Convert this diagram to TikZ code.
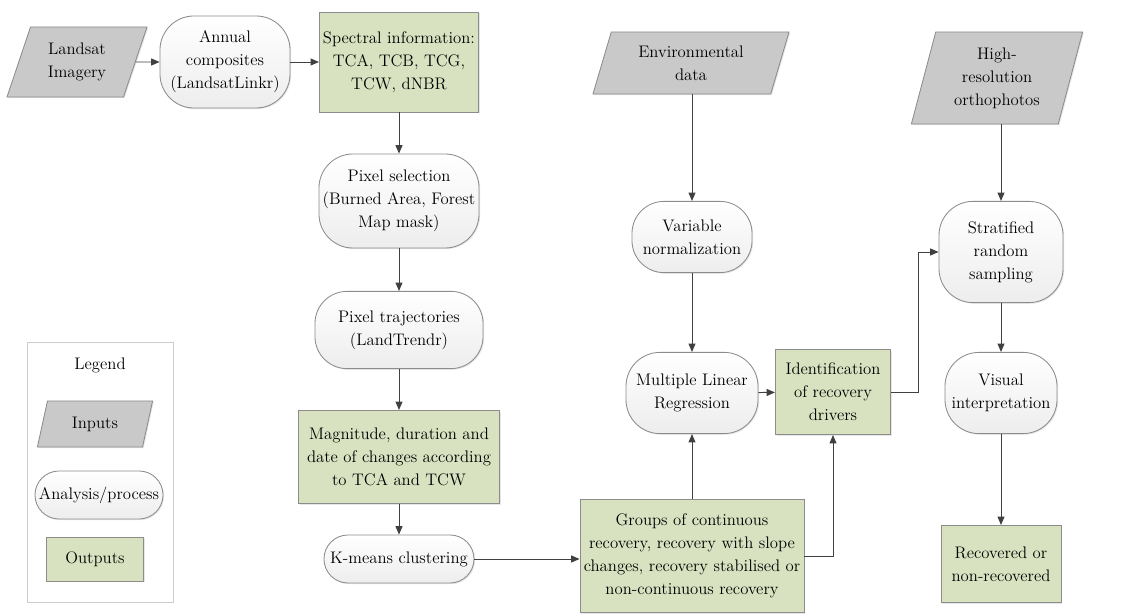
\documentclass[tikz,border=0pt]{standalone}
\usepackage{xcolor}
\usepackage{tikz}
\usetikzlibrary{shapes,arrows,positioning,calc,shadows,arrows.meta}

\definecolor{inputgray}{HTML}{C9C9C9}
\definecolor{outgreen}{HTML}{D8E2C0}
\definecolor{edgegray}{HTML}{8C8C8C}
\definecolor{linegray}{HTML}{404040}

\tikzset{
    base/.style={draw=edgegray, line width=0.6pt, align=center, inner sep=1pt,
        font=\fontsize{11.9}{16.3}\selectfont,
        drop shadow={opacity=0.2, shadow xshift=0.8pt, shadow yshift=-0.8pt}},
    inputbox/.style={base, fill=inputgray, trapezium, trapezium left angle=#1,
        trapezium right angle=180-#1, trapezium stretches body},
    procbox/.style={base, top color=white, bottom color=gray!14, rounded corners=#1},
    procbox/.default=0.6cm,
    outbox/.style={base, fill=outgreen},
    conn/.style={draw=linegray, line width=0.7pt, -{Triangle[length=6pt,width=5pt]}}
}

\begin{document}
\begin{tikzpicture}[x=0.025cm, y=-0.025cm]
    \useasboundingbox (0,0) rectangle (1134,615);

    % First column
    \node [inputbox=60, minimum width=3.5cm, minimum height=1.75cm] (landsat) at (77,62) {Landsat\\Imagery};
    \node [procbox=0.85cm, minimum width=3.25cm, minimum height=2.3cm] (annual) at (225,62) {Annual\\composites\\(LandsatLinkr)};
    \node [outbox, minimum width=3.98cm, minimum height=2.5cm] (spectral) at (399,62) {Spectral information:\\TCA, TCB, TCG,\\TCW, dNBR};
    \node [procbox=0.85cm, minimum width=4cm, minimum height=2.35cm] (pixsel) at (399,201) {Pixel selection\\(Burned Area, Forest\\Map mask)};
    \node [procbox=0.8cm, minimum width=4.2cm, minimum height=1.93cm] (pixtraj) at (399,330) {Pixel trajectories\\(LandTrendr)};
    \node [outbox, minimum width=5.03cm, minimum height=2.33cm] (magn) at (399,457) {Magnitude, duration and\\date of changes according\\to TCA and TCW};
    \node [procbox, minimum width=3.75cm, minimum height=1.2cm] (kmeans) at (399,559) {K-means clustering};

    % Environmental branch
    \node [inputbox=64, minimum width=4.9cm, minimum height=1.55cm] (envdata) at (691,63) {Environmental\\data};
    \node [procbox=0.8cm, minimum width=3cm, minimum height=1.78cm] (varnorm) at (692,237) {Variable\\normalization};
    \node [procbox=0.85cm, minimum width=3.3cm, minimum height=2.03cm] (mlr) at (692,393) {Multiple Linear\\Regression};
    \node [outbox, minimum width=2.88cm, minimum height=2.13cm] (drivers) at (833,392) {Identification\\of recovery\\drivers};
    \node [outbox, minimum width=5.6cm, minimum height=2.83cm] (groups) at (692,556) {Groups of continuous\\recovery, recovery with slope\\changes, recovery stabilised or\\non-continuous recovery};

    % Validation branch
    \node [inputbox=69, minimum width=4.28cm, minimum height=2.3cm] (ortho) at (997,78) {High-\\resolution\\orthophotos};
    \node [procbox=0.85cm, minimum width=3.1cm, minimum height=2.53cm] (sampling) at (1001,252) {Stratified\\random\\sampling};
    \node [procbox=0.85cm, minimum width=2.8cm, minimum height=2.03cm] (visual) at (1001,393) {Visual\\interpretation};
    \node [outbox, minimum width=3cm, minimum height=1.93cm] (recovered) at (1001,564) {Recovered or\\non-recovered};

    % Legend
    \draw [draw=gray!40, line width=0.6pt] (27,342) rectangle (173,602);
    \node [font=\fontsize{11.9}{16.3}\selectfont] (legtitle) at (100,365) {Legend};
    \node [inputbox=60, minimum width=2.88cm, minimum height=1.15cm] (leginput) at (95,424) {Inputs};
    \node [procbox, minimum width=3.2cm, minimum height=1.2cm] (legproc) at (99,495) {Analysis/process};
    \node [outbox, minimum width=2.43cm, minimum height=1.1cm] (legout) at (95,559) {Outputs};

    % Connectors
    \draw [conn] (landsat) -- (annual);
    \draw [conn] (annual) -- (spectral);
    \draw [conn] (spectral) -- (pixsel);
    \draw [conn] (pixsel) -- (pixtraj);
    \draw [conn] (pixtraj) -- (magn);
    \draw [conn] (magn) -- (kmeans);
    \draw [conn] (kmeans.east) -- (kmeans.east -| groups.west);
    \draw [conn] (groups) -- (mlr);
    \draw [conn] (groups.east) -| (drivers.south);
    \draw [conn] (envdata.south -| varnorm) -- (varnorm);
    \draw [conn] (varnorm) -- (mlr);
    \draw [conn] (mlr) -- (drivers);
    \draw [conn] (drivers.east) -- ++(27,0) |- (sampling.west);
    \draw [conn] (ortho.south -| sampling) -- (sampling);
    \draw [conn] (sampling) -- (visual);
    \draw [conn] (visual) -- (recovered);
\end{tikzpicture}
\end{document}
